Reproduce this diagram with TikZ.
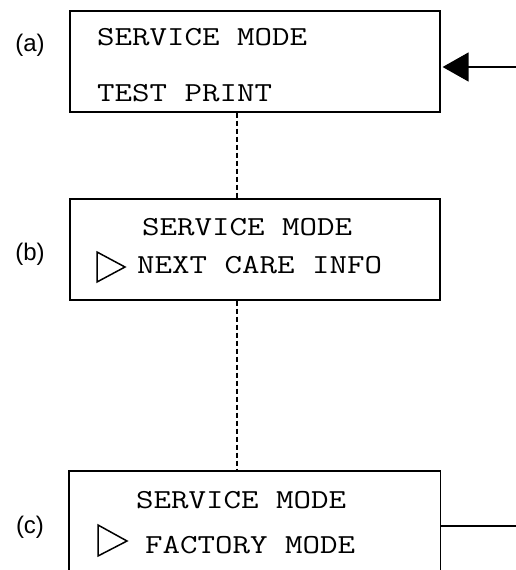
\documentclass[tikz,border=0pt]{standalone}
\usepackage{fontspec}
\setmainfont{Liberation Sans}
\usetikzlibrary{arrows.meta}
\newcommand{\lcdtext}[1]{\scalebox{1.235}[1]{#1}}
\begin{document}
\begin{tikzpicture}[x=1pt,y=-1pt,
  box/.style={draw, line width=1.6pt, minimum width=370pt, minimum height=101pt, inner sep=0pt, anchor=north west},
  lcd/.style={font=\ttfamily\fontsize{27.5}{32}\selectfont, anchor=base west, inner sep=0pt},
  lbl/.style={font=\fontsize{24}{28}\selectfont, inner sep=0pt},
  dashline/.style={line width=1.5pt, dash pattern=on 5pt off 3pt},
  conn/.style={line width=1.3pt},
  pointer/.style={line width=1.5pt, line join=miter}]
\useasboundingbox (0,0) rectangle (516,570);
% boxes
\node[box] (a) at (69,10) {};
\node[box] (b) at (69,198) {};
\node[box, draw=none] (c) at (69,471) {};
\draw[line width=1.6pt] (c.south west) -- (c.north west) -- (c.north east) -- (c.south east);
% labels
\node[lbl] (la) at (30,45) {(a)};
\node[lbl] (lb) at (30,254) {(b)};
\node[lbl] (lc) at (30,527) {(c)};
% texts
\node[lcd] (a1) at (97,45) {\lcdtext{SERVICE MODE}};
\node[lcd] (a2) at (97,101) {\lcdtext{TEST PRINT}};
\node[lcd] (b1) at (142,235) {\lcdtext{SERVICE MODE}};
\node[lcd] (b2) at (137,273) {\lcdtext{NEXT CARE INFO}};
\node[lcd] (c1) at (136,508) {\lcdtext{SERVICE MODE}};
\node[lcd] (c2) at (145,553) {\lcdtext{FACTORY MODE}};
% pointers
\draw[pointer] (97,252) -- (125,267) -- (97,282) -- cycle;
\draw[pointer] (98,525) -- (127,541) -- (98,556) -- cycle;
% dashed connectors
\draw[dashline] ([xshift=-18pt]a.south) -- ([xshift=-18pt]b.north);
\draw[dashline] ([xshift=-18pt]b.south) -- ([xshift=-18pt]c.north);
% arrow in
\coordinate (ain) at (516,67);
\draw[conn, -{Triangle[length=26pt, width=29pt]}, shorten >=2pt] (ain) -- (a.east |- ain);
% line out
\coordinate (cout) at (516,526);
\draw[conn] (c.east |- cout) -- (cout);
\end{tikzpicture}
\end{document}
